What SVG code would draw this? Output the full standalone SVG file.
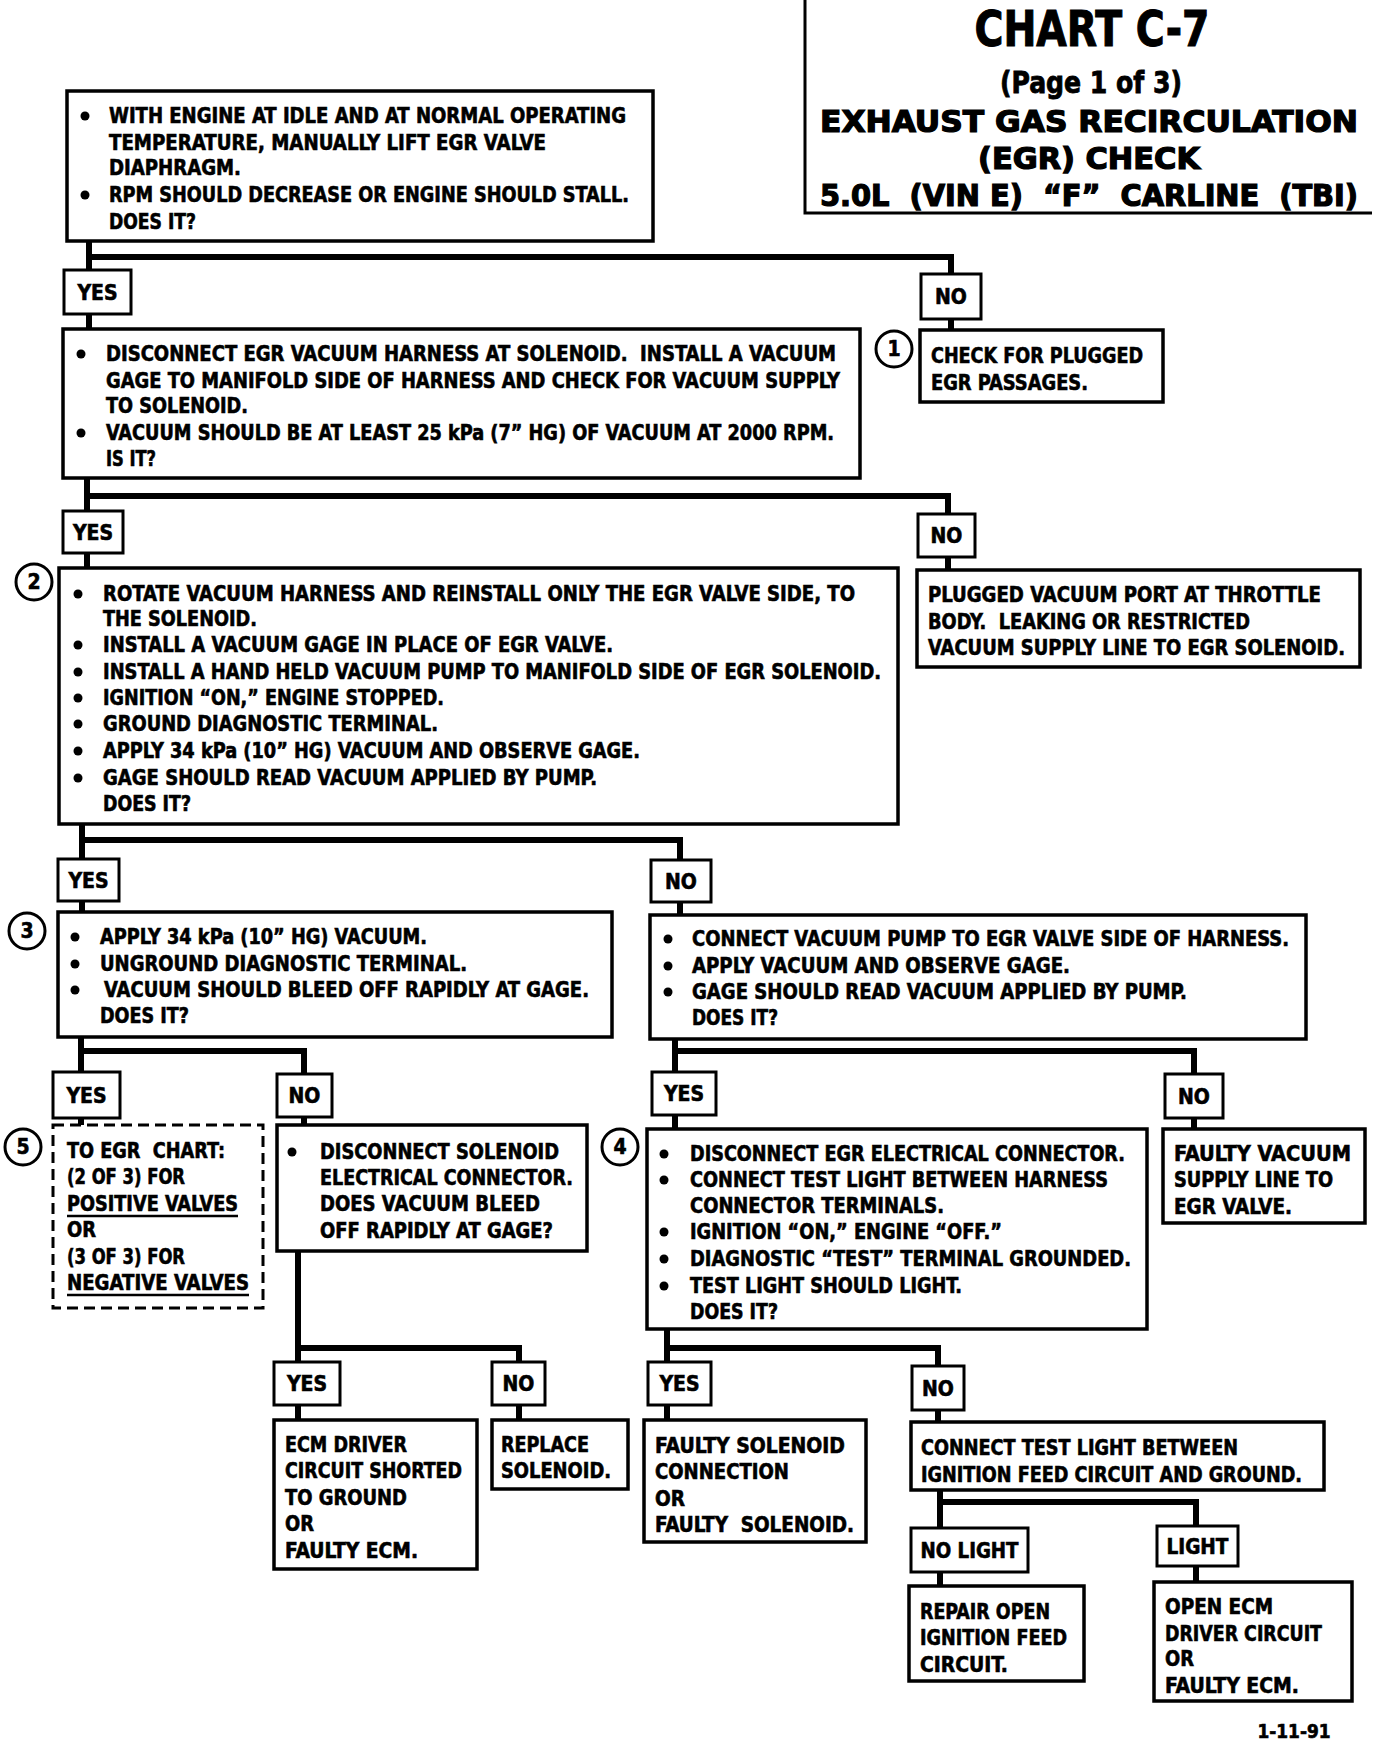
<svg xmlns="http://www.w3.org/2000/svg" width="1392" height="1742" viewBox="0 0 1392 1742" xml:space="preserve">
<style>
.b{fill:#fff;stroke:#000;stroke-width:3.5}
.d{fill:#fff;stroke:#000;stroke-width:3;stroke-dasharray:11 6}
.c{fill:none;stroke:#000;stroke-width:6}
.n{fill:#fff;stroke:#000;stroke-width:3}
text{font-family:"Liberation Sans Narrow","DejaVu Sans Condensed","Liberation Sans",sans-serif;font-weight:bold;font-size:21px;fill:#000;stroke:#000;stroke-width:0.6;white-space:pre}
.m{text-anchor:middle}
.t1{font-size:50px;stroke-width:1}
.t2{font-size:31px;stroke-width:0.8}
.t3{font-size:31px;stroke-width:1.2}
.dt{font-size:19px}
.u{stroke:#000;stroke-width:2.5}
</style>
<defs>
<circle id="dot" r="4.5" fill="#000"/>
</defs>
<rect width="1392" height="1742" fill="#fff"/>

<g id="title">
<path d="M805 0V213H1372" fill="none" stroke="#000" stroke-width="3"/>
<text class="t1 m" x="1092" y="46" textLength="235" lengthAdjust="spacingAndGlyphs">CHART C-7</text>
<text class="t2 m" x="1091" y="93" textLength="182" lengthAdjust="spacingAndGlyphs">(Page 1 of 3)</text>
<text class="t3 m" x="1089" y="132" textLength="538" lengthAdjust="spacingAndGlyphs">EXHAUST GAS RECIRCULATION</text>
<text class="t3 m" x="1089" y="168.5" textLength="222" lengthAdjust="spacingAndGlyphs">(EGR) CHECK</text>
<text class="t3 m" x="1089" y="205.5" textLength="538" lengthAdjust="spacingAndGlyphs">5.0L  (VIN E)  “F”  CARLINE  (TBI)</text>
</g>

<g id="connectors">
<path class="c" d="M89 241V270M89 257H951V274M89 314V329M951 319V330"/>
<path class="c" d="M87 478V511M87 496H948V514M87 553V568M948 557V570"/>
<path class="c" d="M82 824V859M82 840H680V860M82 901V912M680 902V915"/>
<path class="c" d="M81 1037V1072M81 1051H304V1074M81 1118V1125M304 1117V1125"/>
<path class="c" d="M298 1251V1362M298 1348H519V1362M298 1405V1420M519 1405V1420"/>
<path class="c" d="M675 1039V1072M675 1051H1194V1074M675 1115V1129M1194 1118V1129"/>
<path class="c" d="M667 1329V1362M667 1348H938V1366M667 1405V1420M938 1410V1422"/>
<path class="c" d="M940 1490V1528M940 1502H1196V1526M940 1572V1586M1196 1566V1582"/>
</g>

<g id="n1">
<rect class="b" x="67" y="91" width="586" height="150"/>
<use href="#dot" x="85" y="116"/>
<text x="109" y="123" textLength="517" lengthAdjust="spacingAndGlyphs">WITH ENGINE AT IDLE AND AT NORMAL OPERATING</text>
<text x="109" y="150" textLength="437" lengthAdjust="spacingAndGlyphs">TEMPERATURE, MANUALLY LIFT EGR VALVE</text>
<text x="109" y="175" textLength="132" lengthAdjust="spacingAndGlyphs">DIAPHRAGM.</text>
<use href="#dot" x="85" y="195"/>
<text x="109" y="202" textLength="520" lengthAdjust="spacingAndGlyphs">RPM SHOULD DECREASE OR ENGINE SHOULD STALL.</text>
<text x="109" y="229" textLength="87" lengthAdjust="spacingAndGlyphs">DOES IT?</text>
</g>

<g id="yes1"><rect class="n" x="64" y="270" width="67" height="44"/><text class="m" x="97.5" y="300">YES</text></g>
<g id="no1"><rect class="n" x="921" y="274" width="60" height="45"/><text class="m" x="951" y="304">NO</text></g>

<g id="n2">
<rect class="b" x="63" y="329" width="797" height="149"/>
<use href="#dot" x="81" y="354"/>
<text x="106" y="361" textLength="730" lengthAdjust="spacingAndGlyphs">DISCONNECT EGR VACUUM HARNESS AT SOLENOID.  INSTALL A VACUUM</text>
<text x="106" y="388" textLength="734" lengthAdjust="spacingAndGlyphs">GAGE TO MANIFOLD SIDE OF HARNESS AND CHECK FOR VACUUM SUPPLY</text>
<text x="106" y="413" textLength="142" lengthAdjust="spacingAndGlyphs">TO SOLENOID.</text>
<use href="#dot" x="81" y="433"/>
<text x="106" y="440" textLength="728" lengthAdjust="spacingAndGlyphs">VACUUM SHOULD BE AT LEAST 25 kPa (7” HG) OF VACUUM AT 2000 RPM.</text>
<text x="106" y="466" textLength="50" lengthAdjust="spacingAndGlyphs">IS IT?</text>
</g>

<g id="n-check">
<circle cx="894" cy="349" r="18" fill="#fff" stroke="#000" stroke-width="3"/>
<text class="m" x="894" y="356">1</text>
<rect class="b" x="920" y="330" width="243" height="72"/>
<text x="931" y="363" textLength="212" lengthAdjust="spacingAndGlyphs">CHECK FOR PLUGGED</text>
<text x="931" y="390" textLength="157" lengthAdjust="spacingAndGlyphs">EGR PASSAGES.</text>
</g>

<g id="yes2"><rect class="n" x="63" y="511" width="60" height="42"/><text class="m" x="93" y="540">YES</text></g>
<g id="no2"><rect class="n" x="918" y="514" width="57" height="43"/><text class="m" x="946.5" y="543">NO</text></g>

<g id="n-plugged">
<rect class="b" x="917" y="570" width="443" height="97"/>
<text x="928" y="602" textLength="393" lengthAdjust="spacingAndGlyphs">PLUGGED VACUUM PORT AT THROTTLE</text>
<text x="928" y="629" textLength="322" lengthAdjust="spacingAndGlyphs">BODY.  LEAKING OR RESTRICTED</text>
<text x="928" y="655" textLength="417" lengthAdjust="spacingAndGlyphs">VACUUM SUPPLY LINE TO EGR SOLENOID.</text>
</g>

<g id="n3">
<circle cx="34" cy="582" r="18" fill="#fff" stroke="#000" stroke-width="3"/>
<text class="m" x="34" y="589">2</text>
<rect class="b" x="59" y="568" width="839" height="256"/>
<use href="#dot" x="78" y="594"/>
<text x="103" y="601" textLength="752" lengthAdjust="spacingAndGlyphs">ROTATE VACUUM HARNESS AND REINSTALL ONLY THE EGR VALVE SIDE, TO</text>
<text x="103" y="626" textLength="154" lengthAdjust="spacingAndGlyphs">THE SOLENOID.</text>
<use href="#dot" x="78" y="645"/>
<text x="103" y="652" textLength="510" lengthAdjust="spacingAndGlyphs">INSTALL A VACUUM GAGE IN PLACE OF EGR VALVE.</text>
<use href="#dot" x="78" y="672"/>
<text x="103" y="679" textLength="778" lengthAdjust="spacingAndGlyphs">INSTALL A HAND HELD VACUUM PUMP TO MANIFOLD SIDE OF EGR SOLENOID.</text>
<use href="#dot" x="78" y="698"/>
<text x="103" y="705" textLength="341" lengthAdjust="spacingAndGlyphs">IGNITION “ON,” ENGINE STOPPED.</text>
<use href="#dot" x="78" y="724"/>
<text x="103" y="731" textLength="335" lengthAdjust="spacingAndGlyphs">GROUND DIAGNOSTIC TERMINAL.</text>
<use href="#dot" x="78" y="751"/>
<text x="103" y="758" textLength="537" lengthAdjust="spacingAndGlyphs">APPLY 34 kPa (10” HG) VACUUM AND OBSERVE GAGE.</text>
<use href="#dot" x="78" y="778"/>
<text x="103" y="785" textLength="494" lengthAdjust="spacingAndGlyphs">GAGE SHOULD READ VACUUM APPLIED BY PUMP.</text>
<text x="103" y="811" textLength="88" lengthAdjust="spacingAndGlyphs">DOES IT?</text>
</g>

<g id="yes3"><rect class="n" x="58" y="859" width="61" height="42"/><text class="m" x="88.5" y="888">YES</text></g>
<g id="no3"><rect class="n" x="651" y="860" width="60" height="42"/><text class="m" x="681" y="889">NO</text></g>

<g id="n4">
<circle cx="27" cy="931" r="18" fill="#fff" stroke="#000" stroke-width="3"/>
<text class="m" x="27" y="938">3</text>
<rect class="b" x="58" y="912" width="554" height="125"/>
<use href="#dot" x="75" y="937"/>
<text x="100" y="944" textLength="327" lengthAdjust="spacingAndGlyphs">APPLY 34 kPa (10” HG) VACUUM.</text>
<use href="#dot" x="75" y="964"/>
<text x="100" y="971" textLength="367" lengthAdjust="spacingAndGlyphs">UNGROUND DIAGNOSTIC TERMINAL.</text>
<use href="#dot" x="75" y="990"/>
<text x="104" y="997" textLength="485" lengthAdjust="spacingAndGlyphs">VACUUM SHOULD BLEED OFF RAPIDLY AT GAGE.</text>
<text x="100" y="1023" textLength="89" lengthAdjust="spacingAndGlyphs">DOES IT?</text>
</g>

<g id="n5">
<rect class="b" x="650" y="915" width="656" height="124"/>
<use href="#dot" x="668" y="939"/>
<text x="692" y="946" textLength="597" lengthAdjust="spacingAndGlyphs">CONNECT VACUUM PUMP TO EGR VALVE SIDE OF HARNESS.</text>
<use href="#dot" x="668" y="966"/>
<text x="692" y="973" textLength="378" lengthAdjust="spacingAndGlyphs">APPLY VACUUM AND OBSERVE GAGE.</text>
<use href="#dot" x="668" y="992"/>
<text x="692" y="999" textLength="495" lengthAdjust="spacingAndGlyphs">GAGE SHOULD READ VACUUM APPLIED BY PUMP.</text>
<text x="692" y="1025" textLength="86" lengthAdjust="spacingAndGlyphs">DOES IT?</text>
</g>

<g id="yes4"><rect class="n" x="53" y="1072" width="67" height="46"/><text class="m" x="86.5" y="1103">YES</text></g>
<g id="no4"><rect class="n" x="277" y="1074" width="55" height="43"/><text class="m" x="304.5" y="1103">NO</text></g>

<g id="n-toegr">
<circle cx="23" cy="1147" r="18" fill="#fff" stroke="#000" stroke-width="3"/>
<text class="m" x="23" y="1154">5</text>
<rect class="d" x="53" y="1125" width="210" height="183"/>
<text x="67" y="1158" textLength="158" lengthAdjust="spacingAndGlyphs">TO EGR  CHART:</text>
<text x="67" y="1184" textLength="118" lengthAdjust="spacingAndGlyphs">(2 OF 3) FOR</text>
<text x="67" y="1211" textLength="171" lengthAdjust="spacingAndGlyphs">POSITIVE VALVES</text>
<line class="u" x1="67" y1="1216" x2="238" y2="1216"/>
<text x="67" y="1237" textLength="29" lengthAdjust="spacingAndGlyphs">OR</text>
<text x="67" y="1264" textLength="118" lengthAdjust="spacingAndGlyphs">(3 OF 3) FOR</text>
<text x="67" y="1290" textLength="182" lengthAdjust="spacingAndGlyphs">NEGATIVE VALVES</text>
<line class="u" x1="67" y1="1295" x2="249" y2="1295"/>
</g>

<g id="n-discsol">
<rect class="b" x="277" y="1125" width="310" height="126"/>
<use href="#dot" x="292" y="1152"/>
<text x="320" y="1159" textLength="239" lengthAdjust="spacingAndGlyphs">DISCONNECT SOLENOID</text>
<text x="320" y="1185" textLength="253" lengthAdjust="spacingAndGlyphs">ELECTRICAL CONNECTOR.</text>
<text x="320" y="1211" textLength="220" lengthAdjust="spacingAndGlyphs">DOES VACUUM BLEED</text>
<text x="320" y="1238" textLength="233" lengthAdjust="spacingAndGlyphs">OFF RAPIDLY AT GAGE?</text>
</g>

<g id="yes7"><rect class="n" x="652" y="1072" width="64" height="43"/><text class="m" x="684" y="1101">YES</text></g>
<g id="no7"><rect class="n" x="1165" y="1074" width="58" height="44"/><text class="m" x="1194" y="1104">NO</text></g>

<g id="n6">
<circle cx="620" cy="1147" r="18" fill="#fff" stroke="#000" stroke-width="3"/>
<text class="m" x="620" y="1154">4</text>
<rect class="b" x="647" y="1129" width="500" height="200"/>
<use href="#dot" x="664" y="1154"/>
<text x="690" y="1161" textLength="435" lengthAdjust="spacingAndGlyphs">DISCONNECT EGR ELECTRICAL CONNECTOR.</text>
<use href="#dot" x="664" y="1180"/>
<text x="690" y="1187" textLength="418" lengthAdjust="spacingAndGlyphs">CONNECT TEST LIGHT BETWEEN HARNESS</text>
<text x="690" y="1213" textLength="254" lengthAdjust="spacingAndGlyphs">CONNECTOR TERMINALS.</text>
<use href="#dot" x="664" y="1232"/>
<text x="690" y="1239" textLength="312" lengthAdjust="spacingAndGlyphs">IGNITION “ON,” ENGINE “OFF.”</text>
<use href="#dot" x="664" y="1259"/>
<text x="690" y="1266" textLength="441" lengthAdjust="spacingAndGlyphs">DIAGNOSTIC “TEST” TERMINAL GROUNDED.</text>
<use href="#dot" x="664" y="1286"/>
<text x="690" y="1293" textLength="272" lengthAdjust="spacingAndGlyphs">TEST LIGHT SHOULD LIGHT.</text>
<text x="690" y="1319" textLength="88" lengthAdjust="spacingAndGlyphs">DOES IT?</text>
</g>

<g id="n-faultyvac">
<rect class="b" x="1163" y="1129" width="202" height="94"/>
<text x="1174" y="1161" textLength="177" lengthAdjust="spacingAndGlyphs">FAULTY VACUUM</text>
<text x="1174" y="1187" textLength="159" lengthAdjust="spacingAndGlyphs">SUPPLY LINE TO</text>
<text x="1174" y="1214" textLength="118" lengthAdjust="spacingAndGlyphs">EGR VALVE.</text>
</g>

<g id="yes6"><rect class="n" x="274" y="1362" width="66" height="43"/><text class="m" x="307" y="1391">YES</text></g>
<g id="no6"><rect class="n" x="492" y="1362" width="53" height="43"/><text class="m" x="518.5" y="1391">NO</text></g>

<g id="n-ecmdriver">
<rect class="b" x="274" y="1420" width="203" height="149"/>
<text x="285" y="1452" textLength="122" lengthAdjust="spacingAndGlyphs">ECM DRIVER</text>
<text x="285" y="1478" textLength="177" lengthAdjust="spacingAndGlyphs">CIRCUIT SHORTED</text>
<text x="285" y="1505" textLength="122" lengthAdjust="spacingAndGlyphs">TO GROUND</text>
<text x="285" y="1531" textLength="29" lengthAdjust="spacingAndGlyphs">OR</text>
<text x="285" y="1558" textLength="133" lengthAdjust="spacingAndGlyphs">FAULTY ECM.</text>
</g>

<g id="n-replace">
<rect class="b" x="492" y="1420" width="136" height="69"/>
<text x="501" y="1452" textLength="88" lengthAdjust="spacingAndGlyphs">REPLACE</text>
<text x="501" y="1478" textLength="110" lengthAdjust="spacingAndGlyphs">SOLENOID.</text>
</g>

<g id="yes8"><rect class="n" x="648" y="1362" width="63" height="43"/><text class="m" x="679.5" y="1391">YES</text></g>
<g id="no8"><rect class="n" x="912" y="1366" width="52" height="44"/><text class="m" x="938" y="1396">NO</text></g>

<g id="n-faultysol">
<rect class="b" x="644" y="1420" width="222" height="122"/>
<text x="655" y="1453" textLength="190" lengthAdjust="spacingAndGlyphs">FAULTY SOLENOID</text>
<text x="655" y="1479" textLength="134" lengthAdjust="spacingAndGlyphs">CONNECTION</text>
<text x="655" y="1506" textLength="30" lengthAdjust="spacingAndGlyphs">OR</text>
<text x="655" y="1532" textLength="199" lengthAdjust="spacingAndGlyphs">FAULTY  SOLENOID.</text>
</g>

<g id="n-conntest">
<rect class="b" x="911" y="1422" width="413" height="68"/>
<text x="921" y="1455" textLength="317" lengthAdjust="spacingAndGlyphs">CONNECT TEST LIGHT BETWEEN</text>
<text x="921" y="1482" textLength="381" lengthAdjust="spacingAndGlyphs">IGNITION FEED CIRCUIT AND GROUND.</text>
</g>

<g id="nolight"><rect class="n" x="911" y="1528" width="117" height="44"/><text class="m" x="969.5" y="1558" textLength="98" lengthAdjust="spacingAndGlyphs">NO LIGHT</text></g>
<g id="light"><rect class="n" x="1157" y="1526" width="81" height="40"/><text class="m" x="1197.5" y="1554" textLength="62" lengthAdjust="spacingAndGlyphs">LIGHT</text></g>

<g id="n-repair">
<rect class="b" x="909" y="1586" width="175" height="95"/>
<text x="920" y="1619" textLength="130" lengthAdjust="spacingAndGlyphs">REPAIR OPEN</text>
<text x="920" y="1645" textLength="147" lengthAdjust="spacingAndGlyphs">IGNITION FEED</text>
<text x="920" y="1672" textLength="88" lengthAdjust="spacingAndGlyphs">CIRCUIT.</text>
</g>

<g id="n-openecm">
<rect class="b" x="1154" y="1582" width="198" height="119"/>
<text x="1165" y="1614" textLength="108" lengthAdjust="spacingAndGlyphs">OPEN ECM</text>
<text x="1165" y="1641" textLength="157" lengthAdjust="spacingAndGlyphs">DRIVER CIRCUIT</text>
<text x="1165" y="1666" textLength="29" lengthAdjust="spacingAndGlyphs">OR</text>
<text x="1165" y="1693" textLength="134" lengthAdjust="spacingAndGlyphs">FAULTY ECM.</text>
</g>

<text class="dt m" x="1294" y="1738" textLength="73" lengthAdjust="spacingAndGlyphs">1-11-91</text>
</svg>
